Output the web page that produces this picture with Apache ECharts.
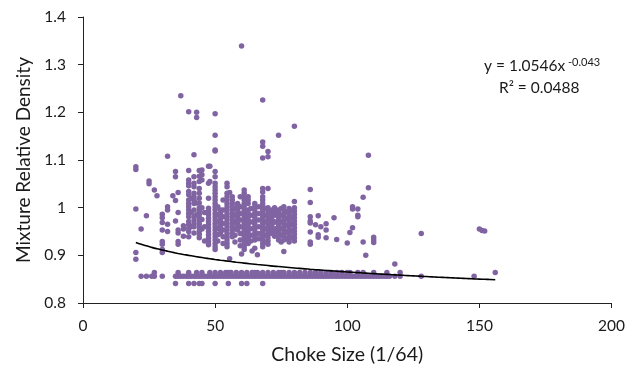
<!DOCTYPE html>
<html>
<head>
<meta charset="utf-8">
<script src="https://cdn.jsdelivr.net/npm/echarts@6/dist/echarts.min.js"></script>
<style>html,body{margin:0;padding:0;background:#fff}#c{width:628px;height:372px}</style>
</head>
<body>
<div id="c"></div>
<script>
// ---- data ----
const xAxisTicks = [0, 50, 100, 150, 200];
const yAxisTicks = [0.8, 0.9, 1.0, 1.1, 1.2, 1.3, 1.4];

// upper cluster, written as [choke size, list of densities]
const clusterColumns = [
  [20, [1.086, 1.080, 0.997, 0.906, 0.892]],
  [22, [0.955]],
  [24, [0.983]],
  [25, [1.056, 1.050]],
  [27, [1.037]],
  [28, [1.025]],
  [30, [0.986, 0.979, 0.969, 0.953, 0.929, 0.923, 0.912, 0.906]],
  [32, [1.108, 1.002, 0.995, 0.965, 0.950]],
  [34, [1.025]],
  [35, [1.076, 1.065, 1.015, 0.972]],
  [36, [1.032, 0.990, 0.953, 0.947, 0.929, 0.923]],
  [37, [1.235]],
  [38, [0.962, 0.955, 0.940]],
  [40, [1.201, 1.078, 1.058, 1.051, 1.046, 1.034, 1.027, 1.016, 1.009, 1.002, 0.995, 0.988, 0.981, 0.971, 0.964, 0.957, 0.950, 0.939]],
  [41, [1.020, 0.990, 0.960]],
  [42, [1.111, 1.065, 1.051, 1.044, 1.030, 1.023, 1.016, 1.009, 0.995, 0.981, 0.974, 0.967, 0.960, 0.947]],
  [43, [1.200, 1.189, 1.010, 0.985]],
  [44, [1.078, 1.066, 1.055, 1.040, 1.030, 1.020, 1.010, 1.000, 0.993, 0.986, 0.979, 0.972, 0.965, 0.958, 0.951, 0.944, 0.937]],
  [45, [1.079, 1.069, 1.058, 1.000, 0.975, 0.955]],
  [46, [0.990, 0.960, 0.930]],
  [47.5, [1.087, 1.051, 1.020, 0.999, 0.992, 0.985, 0.978, 0.971, 0.964, 0.957, 0.950, 0.943, 0.936, 0.929, 0.922]],
  [48, [1.087, 1.055]],
  [50, [1.197, 1.152, 1.121, 1.119, 1.076, 1.065, 1.051, 1.044, 1.037, 1.030, 1.023, 1.016, 1.009, 1.002, 0.995, 0.988, 0.981, 0.974, 0.967, 0.960, 0.953, 0.946, 0.939, 0.932, 0.925, 0.918, 0.912]],
  [51, [1.002, 0.985, 0.971, 0.957, 0.943, 0.930]],
  [52, [0.995, 0.988, 0.981, 0.974, 0.967, 0.960, 0.953, 0.946]],
  [53, [1.016, 0.995, 0.981, 0.967, 0.953, 0.939, 0.925]],
  [54.5, [1.051, 1.044, 1.030, 1.023, 1.016, 1.009, 1.002, 0.995, 0.988, 0.981, 0.974, 0.967, 0.960, 0.953, 0.946, 0.939, 0.932, 0.925, 0.918]],
  [55.5, [1.032, 0.893]],
  [56.5, [1.023, 1.016, 1.009, 1.002, 0.995, 0.988, 0.981, 0.974, 0.967, 0.960, 0.953, 0.946, 0.939]],
  [57.5, [0.998, 0.984, 0.970, 0.956, 0.942, 0.928]],
  [58.5, [1.009, 1.002, 0.995, 0.988, 0.981, 0.974, 0.967, 0.960, 0.953]],
  [59.5, [1.023, 1.002, 0.988, 0.974, 0.960, 0.946, 0.932, 0.920]],
  [60, [1.339, 0.903]],
  [61, [1.037, 1.030, 1.023, 1.016, 1.009, 1.002, 0.995, 0.988, 0.981, 0.974, 0.967, 0.960, 0.953, 0.946, 0.939, 0.932, 0.925, 0.918, 0.912]],
  [62.5, [1.023, 1.016, 1.009, 0.995, 0.988, 0.981, 0.974, 0.967, 0.960, 0.953, 0.946, 0.939, 0.932, 0.925]],
  [63.5, [0.998, 0.984, 0.970, 0.956, 0.942, 0.930]],
  [64, [0.909]],
  [65, [1.009, 1.002, 0.995, 0.988, 0.981, 0.974, 0.967, 0.960, 0.953, 0.946, 0.939, 0.932, 0.915]],
  [66, [0.901]],
  [66.5, [1.002, 0.988, 0.974, 0.960, 0.946, 0.935]],
  [68, [1.226, 1.138, 1.129, 1.104, 1.040, 1.033, 1.023, 1.016, 1.009, 1.002, 0.995, 0.988, 0.981, 0.974, 0.967, 0.960, 0.953, 0.946, 0.939, 0.932, 0.925, 0.918]],
  [69, [0.998, 0.984, 0.970, 0.956, 0.942, 0.928]],
  [70, [1.118, 1.107, 1.040, 1.000, 0.993, 0.986, 0.979, 0.972, 0.965, 0.958, 0.951, 0.944, 0.937, 0.930, 0.923]],
  [71.5, [0.995, 0.988, 0.981, 0.974, 0.967, 0.960, 0.953, 0.946]],
  [72.5, [1.000, 0.990, 0.970, 0.950, 0.940]],
  [73, [0.984, 0.970, 0.956, 0.942]],
  [74, [1.152, 0.995, 0.988, 0.981, 0.974, 0.967, 0.960, 0.953, 0.946, 0.939, 0.932]],
  [75, [0.998, 0.984, 0.970, 0.956, 0.942, 0.928]],
  [76, [1.002, 0.995, 0.988, 0.981, 0.974, 0.967, 0.960, 0.953, 0.946, 0.939, 0.932, 0.908]],
  [77, [0.991, 0.977, 0.963, 0.949, 0.935]],
  [78, [0.998, 0.991, 0.984, 0.977, 0.970, 0.963, 0.956, 0.949, 0.942, 0.935, 0.928]],
  [79, [0.993, 0.979, 0.965, 0.951, 0.937]],
  [80, [1.171, 1.013, 1.000, 0.993, 0.986, 0.979, 0.972, 0.965, 0.958, 0.951, 0.944, 0.937, 0.930]],
  [86, [1.038, 1.011, 0.981, 0.972, 0.968, 0.949, 0.928, 0.923]],
  [88, [0.964]],
  [89, [0.983, 0.943, 0.938]],
  [90, [0.960]],
  [92, [0.966, 0.953, 0.937]],
  [95, [0.979]],
  [96, [0.933]],
  [100, [0.926]],
  [101, [0.948]],
  [102, [1.002, 0.997, 0.958]],
  [104, [0.997, 0.984, 0.981]],
  [106, [1.022, 0.928]],
  [107, [0.900]],
  [108, [1.110, 1.042]],
  [110, [0.938, 0.932, 0.927]],
  [118, [0.882]],
  [128, [0.946]],
  [150, [0.955]],
  [151, [0.952]],
  [152, [0.951]]
];

// dense bottom band (two close rows) and the sparse lowest row
const bandLowX = [22, 24, 26, 27, 30, 35, 36, 37, 38, 39, 40, 41, 42, 43, 44, 45, 46, 47, 48, 49, 50, 51, 52, 53, 54, 55, 56, 57, 58, 59, 60, 61, 62, 63, 64, 65, 66, 67, 68, 69, 70, 71, 72, 73, 74, 75, 76, 77, 78, 79, 80, 81, 82, 83, 84, 85, 86, 87, 88, 89, 90, 91, 92, 93, 94, 95, 96, 97, 98, 99, 100, 101, 102, 103, 104, 105, 106, 107, 108, 109, 110, 111, 112, 113, 114, 115, 116, 118, 120, 128, 148];
const bandLowY = 0.856;
const bandHighX = [27, 36, 40, 43, 45, 48, 50, 52, 54, 55, 56, 58, 60, 62, 64, 65, 66, 68, 70, 72, 74, 75, 76, 78, 80, 82, 84, 86, 88, 90, 92, 94, 96, 98, 100, 101, 104, 106, 110, 115, 120, 156];
const bandHighY = 0.864;
const lowestX = [35, 40, 42, 44, 45, 50, 55, 60, 62, 68];
const lowestY = 0.841;

// fitted power trend shown on the chart: y = 1.0546 x^-0.043
const trendA = 1.0546, trendB = -0.043, trendStart = 20, trendEnd = 156;

// ---- build ----
const points = [];
clusterColumns.forEach(([x, ys]) => ys.forEach(y => points.push([x, y])));
bandLowX.forEach(x => points.push([x, bandLowY]));
bandHighX.forEach(x => points.push([x, bandHighY]));
lowestX.forEach(x => points.push([x, lowestY]));

const trend = [];
for (let x = trendStart; x <= trendEnd; x += 2) trend.push([x, trendA * Math.pow(x, trendB)]);

const FONT = 'Lato';
const TXT = '#1a1a1a';
const chart = echarts.init(document.getElementById('c'), null, {renderer: 'canvas'});
chart.setOption({
  animation: false,
  backgroundColor: '#fff',
  grid: {left: 83, right: 15, top: 17, bottom: 69, containLabel: false},
  xAxis: {
    type: 'value', min: 0, max: 200, interval: 50,
    name: 'Choke Size (1/64)', nameLocation: 'middle', nameGap: 42,
    nameTextStyle: {fontFamily: FONT, fontSize: 19.5, color: TXT},
    axisLine: {show: true, onZero: false, lineStyle: {color: '#222', width: 1}},
    axisTick: {show: true, length: 5, inside: false, lineStyle: {color: '#222'}},
    axisLabel: {fontFamily: FONT, fontSize: 15.5, color: TXT, margin: 15},
    splitLine: {show: false}
  },
  yAxis: {
    type: 'value', min: 0.8, max: 1.4, interval: 0.1,
    name: 'Mixture Relative Density', nameLocation: 'middle', nameGap: 50,
    nameTextStyle: {fontFamily: FONT, fontSize: 19, color: TXT},
    axisLine: {show: true, onZero: false, lineStyle: {color: '#222', width: 1}},
    axisTick: {show: true, length: 5, inside: false, lineStyle: {color: '#222'}},
    axisLabel: {fontFamily: FONT, fontSize: 15.5, color: TXT, margin: 17,
      formatter: v => (Math.round(v * 10) / 10).toString()},
    splitLine: {show: false}
  },
  series: [
    {type: 'scatter', data: points, symbolSize: 5.5,
      itemStyle: {color: '#8064A2', opacity: 1}, z: 2},
    {type: 'line', data: trend, showSymbol: false, smooth: true,
      lineStyle: {color: '#000', width: 1.6}, z: 3}
  ],
  graphic: [
    {type: 'text', left: 484, top: 58, style: {text: 'y = 1.0546x', fontFamily: FONT, fontSize: 15.5, fill: TXT}},
    {type: 'text', left: 568, top: 57, style: {text: '-0.043', fontFamily: FONT, fontSize: 11, fill: TXT}},
    {type: 'text', left: 499, top: 80, style: {text: 'R\u00B2 = 0.0488', fontFamily: FONT, fontSize: 15.5, fill: TXT}}
  ]
});
</script>
</body>
</html>
